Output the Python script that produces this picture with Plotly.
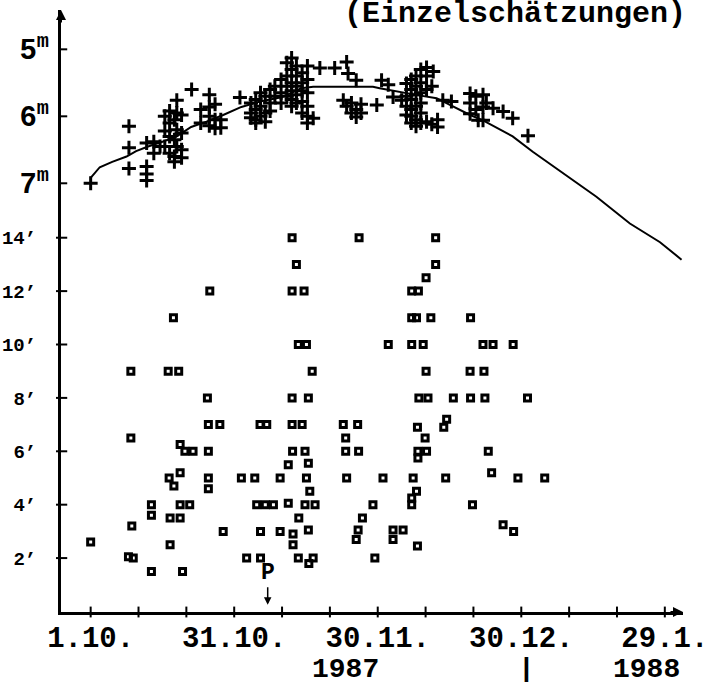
import plotly.graph_objects as go

# ---------------- data (days counted from 1 Oct 1987) ----------------
mag_day = [0.0,
           8.0, 8.0, 8.0,
           11.7, 11.7, 11.7, 11.7, 13.2, 13.2, 14.5,
           15.5, 15.5, 15.5, 16.5, 16.5, 16.5, 16.5, 17.5, 17.5, 17.5, 17.5,
           18.0, 18.0, 18.0, 18.0, 19.0, 19.0, 19.0, 19.0,
           21.1, 23.0, 23.0, 24.8, 24.8, 24.8, 24.8, 26.0, 26.0, 26.0, 27.2, 27.2,
           31.2, 33.5, 33.5, 33.5, 34.5, 34.5, 34.5, 34.5, 35.5, 35.5, 35.5,
           36.5, 36.5, 36.5, 37.5, 37.5, 37.5, 38.5, 38.5, 39.8, 39.8, 39.8,
           41.0, 41.0, 41.0, 41.0, 42.0, 42.0, 42.0, 42.0, 42.0, 42.0,
           43.0, 43.0, 43.0, 43.0, 43.0, 44.2, 44.2, 44.2, 44.2, 44.2,
           45.3, 45.3, 45.3, 45.3, 45.3, 45.3, 46.5, 47.9,
           51.0, 53.5, 53.8, 55.5, 52.8, 53.5, 54.5, 54.5, 55.5, 55.5, 56.5, 56.5,
           59.8, 60.8, 62.2, 63.2, 65.0,
           66.0, 66.0, 66.0, 66.0, 67.0, 67.0, 67.0, 67.0, 67.0, 67.0,
           68.0, 68.0, 68.0, 68.0, 68.0, 68.0, 69.0, 69.0, 69.0, 69.0, 69.0, 69.0,
           70.2, 70.2, 70.2, 70.2, 71.6, 71.3, 71.3, 72.5, 72.5, 73.6, 75.4,
           79.3, 79.3, 79.3, 80.5, 80.5, 81.0, 82.0, 82.0, 82.0, 82.7,
           84.1, 86.2, 88.2, 91.4]
mag_val = [7.00,
           6.15, 6.47, 6.78,
           6.40, 6.75, 6.86, 6.96, 6.38, 6.55, 6.45,
           6.00, 6.22, 6.45, 5.92, 6.10, 6.30, 6.55, 6.05, 6.35, 6.60, 6.68,
           5.76, 5.95, 6.20, 6.45, 5.98, 6.25, 6.50, 6.62,
           5.60, 5.90, 6.10, 5.68, 5.86, 6.00, 6.14, 5.82, 6.05, 6.18, 6.05, 6.17,
           5.72, 5.80, 5.95, 6.02, 5.75, 5.90, 6.05, 6.10, 5.65, 5.85, 6.00,
           5.70, 5.95, 6.08, 5.60, 5.80, 5.92, 5.55, 5.70, 5.45, 5.65, 5.80,
           5.20, 5.40, 5.55, 5.70, 5.13, 5.30, 5.50, 5.62, 5.75, 5.85,
           5.25, 5.40, 5.55, 5.68, 5.80, 5.35, 5.50, 5.62, 5.78, 5.95,
           5.25, 5.45, 5.65, 5.85, 6.00, 6.10, 6.03, 5.28,
           5.28, 5.19, 5.36, 5.46, 5.76, 5.85, 5.80, 5.95, 5.90, 6.01, 5.82, 5.95,
           5.83, 5.46, 5.53, 5.71, 5.76,
           5.51, 5.70, 5.85, 5.98, 5.45, 5.60, 5.75, 5.90, 6.00, 6.10,
           5.40, 5.55, 5.68, 5.85, 6.05, 6.15, 5.30, 5.50, 5.65, 5.80, 5.95, 6.10,
           5.27, 5.40, 5.60, 6.08, 5.33, 5.55, 6.12, 6.05, 6.16, 5.76, 5.78,
           5.66, 5.80, 5.96, 5.70, 5.90, 6.06, 5.68, 5.86, 6.06, 5.80,
           5.88, 5.93, 6.03, 6.29]

curve_day = [0.0, 1.9, 4.5, 7.5, 9.5, 12.0, 15.0, 18.0, 21.0, 24.2, 27.7, 31.5, 35.4,
             39.6, 42.0, 44.0, 46.5, 52.0, 59.0, 60.4, 64.0, 68.0, 72.3, 76.5, 79.3,
             82.0, 85.0, 88.2, 92.4, 98.7, 105.7, 112.7, 119.0, 123.5]
curve_mag = [6.92, 6.76, 6.68, 6.60, 6.52, 6.45, 6.38, 6.30, 6.16, 6.08, 5.98, 5.86, 5.78,
             5.72, 5.65, 5.58, 5.56, 5.56, 5.56, 5.58, 5.63, 5.68, 5.73, 5.88, 5.98,
             6.06, 6.18, 6.30, 6.53, 6.85, 7.20, 7.60, 7.88, 8.14]

coma_day = [0.0, 7.9, 8.9, 8.4, 8.4, 8.6, 12.7, 12.7, 12.7,
            16.2, 18.4, 17.3, 16.4, 18.7, 17.4, 18.7, 19.7, 21.4, 16.6, 18.7, 16.6,
            18.7, 20.7, 19.2, 24.9, 24.4, 24.6, 27.0, 24.6, 24.6, 24.6, 27.7,
            31.5, 34.3, 32.6, 35.5, 35.4, 36.8, 34.7, 36.5, 38.2, 35.5, 39.6, 39.6,
            41.3, 41.3, 42.1, 43.0, 42.1, 44.6, 43.4, 45.1, 46.3, 42.1, 45.5,
            42.1, 44.2, 42.2, 44.8, 45.5, 45.1, 45.8, 44.8, 46.9, 43.5, 42.3, 42.3,
            45.5, 43.4, 46.5, 45.6,
            53.3, 52.8, 55.8, 53.3, 56.0, 53.5, 56.8, 55.9, 55.5, 56.1, 59.0, 59.4,
            61.1, 62.2, 63.2, 65.3, 63.2, 67.1, 68.5, 67.1, 68.1, 71.1, 67.1, 69.5,
            68.6, 70.5, 68.3, 69.9, 68.4, 70.2, 68.4, 67.4, 68.1, 67.1, 67.1, 68.3,
            70.1, 72.1, 72.1, 70.1, 74.4, 73.8, 74.2, 75.8, 79.4, 79.3, 82.2, 79.4,
            82.4, 79.8, 82.0, 84.1, 83.1, 83.8, 86.2, 88.4, 88.3, 89.3, 91.3, 94.9]
coma_val = [2.6, 2.05, 2.0, 9.0, 6.5, 3.2, 4.0, 3.6, 1.5,
            9.0, 9.0, 11.0, 5.0, 5.2, 4.7, 6.25, 6.0, 6.0, 3.5, 3.5, 2.5,
            4.0, 4.0, 1.5, 12.0, 8.0, 7.0, 7.0, 6.0, 5.0, 4.6, 3.0,
            5.0, 5.0, 2.0, 2.0, 7.0, 7.0, 4.0, 4.0, 4.0, 3.0, 3.0, 5.0,
            5.5, 4.05, 14.0, 13.0, 12.0, 12.0, 10.0, 10.0, 9.0, 8.0, 8.0,
            7.0, 7.0, 6.0, 6.0, 5.55, 5.0, 4.5, 4.0, 4.0, 3.5, 2.9, 2.5,
            3.05, 2.0, 2.0, 1.8,
            6.5, 7.0, 7.0, 6.0, 6.0, 5.0, 3.5, 3.05, 2.7, 14.0, 4.0, 2.0,
            5.0, 10.0, 3.05, 3.05, 2.7, 12.0, 12.0, 11.0, 11.0, 11.0, 10.0, 10.0,
            8.0, 8.0, 6.9, 6.5, 6.0, 6.0, 5.75, 5.0, 4.5, 4.25, 4.0, 2.45,
            12.5, 14.0, 13.0, 9.0, 7.2, 6.9, 5.0, 8.0, 11.0, 9.0, 9.0, 8.0,
            8.0, 4.0, 10.0, 10.0, 6.0, 5.2, 3.25, 3.0, 10.0, 5.0, 8.0, 5.0]

x_tick_days = list(range(0, 121, 10))
x_label_days = [0, 30, 60, 90, 120]
x_labels = ["1.10.", "31.10.", "30.11.", "30.12.", "29.1."]
mag_ticks = [5, 6, 7]
mag_labels = ["5<sup>m</sup>", "6<sup>m</sup>", "7<sup>m</sup>"]
coma_ticks = [2, 4, 6, 8, 10, 12, 14]
coma_labels = ["2’", "4’", "6’", "8’", "10’", "12’", "14’"]
perihelion_day = 37.0
year_labels = ["1987", "|", "1988"]
year_label_days = [53.3, 91.1, 116.2]
title_text = "(Einzelschätzungen)"

# ---------------- figure ----------------
MONO = "Liberation Mono"
fig = go.Figure()

fig.add_trace(go.Scatter(x=curve_day, y=curve_mag, mode="lines", yaxis="y2",
                         line=dict(color="black", width=2), hoverinfo="skip",
                         showlegend=False))
fig.add_trace(go.Scatter(x=mag_day, y=mag_val, mode="markers", yaxis="y2",
                         marker=dict(symbol="cross-thin", size=10, color="black",
                                     line=dict(color="black", width=3)),
                         showlegend=False))
fig.add_trace(go.Scatter(x=coma_day, y=coma_val, mode="markers", yaxis="y",
                         marker=dict(symbol="square-open", size=6, color="black",
                                     line=dict(color="black", width=3)),
                         showlegend=False))

tick_text_x = [x_labels[x_label_days.index(d)] if d in x_label_days else ""
               for d in x_tick_days]

fig.update_layout(
    width=712, height=682,
    margin=dict(l=61, r=29, t=10, b=70),
    paper_bgcolor="white", plot_bgcolor="white",
    showlegend=False,
    xaxis=dict(range=[-6.2, 123.8], tickvals=x_tick_days, ticktext=tick_text_x,
               ticks="", showgrid=False, zeroline=False, showline=True,
               linecolor="black", linewidth=3, ticklabelstandoff=-3,
               automargin=False,
               tickfont=dict(family=MONO, size=29, color="black", weight="bold")),
    yaxis=dict(range=[-0.02, 22.53], tickvals=coma_ticks, ticktext=coma_labels,
               ticks="", showgrid=False, zeroline=False, showline=True,
               linecolor="black", linewidth=3, ticklabelstandoff=18,
               automargin=False,
               tickfont=dict(family=MONO, size=19, color="black", weight="bold")),
    yaxis2=dict(range=[13.40, 4.413], overlaying="y", side="left",
                tickvals=mag_ticks, ticktext=mag_labels, ticks="",
                showgrid=False, zeroline=False, showline=False,
                ticklabelstandoff=11, automargin=False,
                tickfont=dict(family=MONO, size=29, color="black", weight="bold")),
)

shapes = []
for d in x_tick_days:
    shapes.append(dict(type="line", xref="x", yref="paper", x0=d, x1=d,
                       y0=-0.009, y1=0.009, line=dict(color="black", width=2)))
for v in coma_ticks:
    shapes.append(dict(type="line", xref="paper", yref="y", x0=-0.008, x1=0.01,
                       y0=v, y1=v, line=dict(color="black", width=2)))
for v in mag_ticks:
    shapes.append(dict(type="line", xref="paper", yref="y2", x0=-0.003, x1=0.01,
                       y0=v, y1=v, line=dict(color="black", width=2)))
fig.update_layout(shapes=shapes)

ann = []
# axis arrowheads
ann.append(dict(x=1.0, y=0, xref="paper", yref="paper", ax=-14, ay=0, text="",
                showarrow=True, arrowhead=2, arrowwidth=2, arrowcolor="black"))
ann.append(dict(x=0, y=1.0, xref="paper", yref="paper", ax=0, ay=14, text="",
                showarrow=True, arrowhead=2, arrowwidth=2, arrowcolor="black"))
# perihelion marker
ann.append(dict(x=perihelion_day, y=0.25, xref="x", yref="y", ax=0, ay=-32,
                text="P", showarrow=True, arrowhead=2, arrowwidth=1.5,
                arrowcolor="black", standoff=0,
                font=dict(family=MONO, size=23, color="black", weight="bold")))
for t, d in zip(year_labels, year_label_days):
    ann.append(dict(x=d, y=-0.095, xref="x", yref="paper", text=t,
                    showarrow=False, xanchor="center", yanchor="middle",
                    font=dict(family=MONO, size=28, color="black", weight="bold")))
ann.append(dict(x=(515 - 61) / 622, y=1 + (10 - 14) / 602, xref="paper", yref="paper",
                text=title_text, showarrow=False, xanchor="center", yanchor="middle",
                font=dict(family=MONO, size=30, color="black", weight="bold")))
fig.update_layout(annotations=ann)

fig.write_html("out.html", config={"displayModeBar": False},
               post_script="document.body.style.margin='0px';")
